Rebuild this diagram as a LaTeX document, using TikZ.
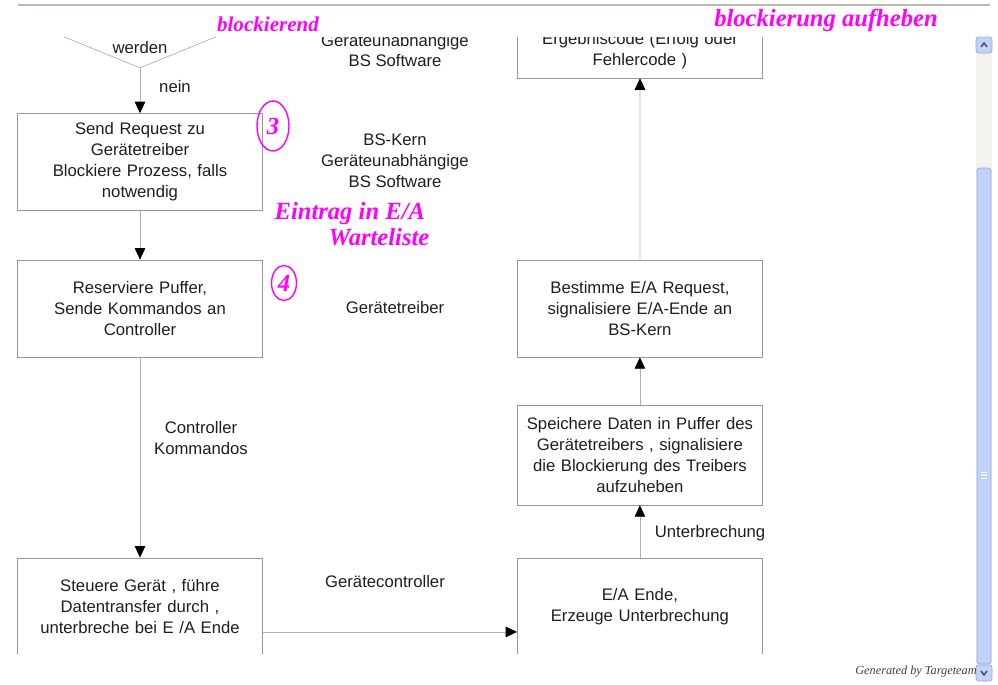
\documentclass[tikz,border=0pt]{standalone}
\usepackage{fontspec}
\setmainfont{Liberation Sans}
\newfontfamily\handfont{Liberation Serif}
\usetikzlibrary{shapes.geometric, arrows.meta}
\definecolor{boxgray}{RGB}{150,150,150}
\definecolor{linegray}{RGB}{175,175,175}
\definecolor{txtgray}{RGB}{30,30,30}
\definecolor{ink}{RGB}{255,0,255}
\definecolor{topgray}{RGB}{190,185,175}
\definecolor{barblue}{RGB}{193,211,251}
\definecolor{bartrack}{RGB}{244,243,238}
\tikzstyle{process} = [rectangle, minimum width=4.9cm, minimum height=1.94cm, text centered, text width=4.7cm, inner sep=0pt, draw=boxgray, text=txtgray, font=\fontsize{9.5}{11.9}\selectfont]
\tikzstyle{decision} = [diamond, minimum width=5.88cm, minimum height=2.4cm, inner sep=0pt, draw=linegray]
\tikzstyle{layer} = [align=center, inner sep=0pt, text=txtgray, font=\fontsize{9.5}{11.9}\selectfont]
\tikzstyle{arrow} = [draw=linegray, -{Triangle[width=6pt,length=6.5pt,color=black]}]
\tikzstyle{note} = [text=ink, inner sep=0pt, font=\handfont\bfseries\itshape\fontsize{14}{15}\selectfont]

\begin{document}
\begin{tikzpicture}[x=0.02cm, y=-0.02cm, node distance=2.93cm]
			\useasboundingbox (0,0) rectangle (998,684);
			\draw[topgray, line width=1.2pt] (18,5) -- (990,5);

			\begin{scope}
			\clip (0,37) rectangle (975,653);
			\node(decide)[decision] at (140,8) {};
			\node(werden)[layer] at (140,48) {werden};
			\node(send)[process] at (140,162) {Send Request zu\\Gerätetreiber\\Blockiere Prozess, falls\\notwendig};
			\node(reserve)[process, below of=send] {Reserviere Puffer,\\Sende Kommandos an\\Controller};
			\node(steuere)[process, below of=reserve, node distance=5.96cm] {Steuere Gerät , führe\\Datentransfer durch ,\\unterbreche bei E /A Ende};
			\node(eaende)[process, right of=steuere, node distance=10cm] {E/A Ende,\\Erzeuge Unterbrechung};
			\node(speichere)[process, above of=eaende, node distance=3.03cm, minimum height=2cm] {Speichere Daten in Puffer des\\Gerätetreibers , signalisiere\\die Blockierung des Treibers\\aufzuheben};
			\node(bestimme)[process, above of=speichere] {Bestimme E/A Request,\\signalisiere E/A-Ende an\\BS-Kern};
			\node(ergebnis)[process, minimum height=1.1cm] at (640,50.5) {Ergebniscode (Erfolg oder\\Fehlercode )};

			\node(swtop)[layer] at (395,50.5) {Geräteunabhängige\\BS Software};
			\node(kern)[layer] at (395,161) {BS-Kern\\Geräteunabhängige\\BS Software};
			\node(treiber)[layer] at (395,308) {Gerätetreiber};
			\node(ctrl)[layer] at (385,582) {Gerätecontroller};
			\node(nein)[layer] at (175,87) {nein};
			\node(kommandos)[layer] at (201,438) {Controller\\Kommandos};
			\node(unterbr)[layer] at (710,533) {Unterbrechung};

			\draw [arrow] (decide.south) -- (send.north);
			\draw [arrow] (send) -- (reserve);
			\draw [arrow] (reserve) -- (steuere);
			\draw [arrow] ([yshift=-0.51cm]steuere.east) -- ([yshift=-0.51cm]eaende.west);
			\draw [arrow] (eaende) -- (speichere);
			\draw [arrow] (speichere) -- (bestimme);
			\draw [arrow] (bestimme) -- (ergebnis);
			\end{scope}

			% handwritten notes
			\node(blockiert)[note, font=\handfont\bfseries\itshape\fontsize{12}{12}\selectfont] at (268,24) {blockierend};
			\node(aufheben)[note] at (826,20) {blockierung aufheben};
			\node(drei)[note, ellipse, draw=ink, thick, minimum width=0.64cm, minimum height=1cm] at (273,126) {3};
			\node(vier)[note, ellipse, draw=ink, thick, minimum width=0.5cm, minimum height=0.7cm] at (284,283) {4};
			\node(eintrag)[note, align=left] at (352,224) {Eintrag in E/A\\\hspace{2.2em}Warteliste};

			% scrollbar
			\fill[bartrack] (976,37) rectangle (992,680);
			\filldraw[fill=barblue, draw=barblue!80!black, rounded corners=1.5pt] (977,168) rectangle (991,664);
			\foreach \gy in {472,475,478} \draw[white] (981,\gy) -- (987,\gy);
			\filldraw[fill=barblue, draw=barblue!80!black, rounded corners=1.5pt] (976,37) rectangle (992,53);
			\filldraw[fill=barblue, draw=barblue!80!black, rounded corners=1.5pt] (976,665) rectangle (992,681);
			\draw[black!70, thick] (981,47) -- (984,43) -- (987,47);
			\draw[black!70, thick] (981,671) -- (984,675) -- (987,671);

			\node(gen)[text=black!75, inner sep=0pt, font=\handfont\itshape\fontsize{7}{7}\selectfont] at (916,672) {Generated by Targeteam};
		\end{tikzpicture}
\end{document}
